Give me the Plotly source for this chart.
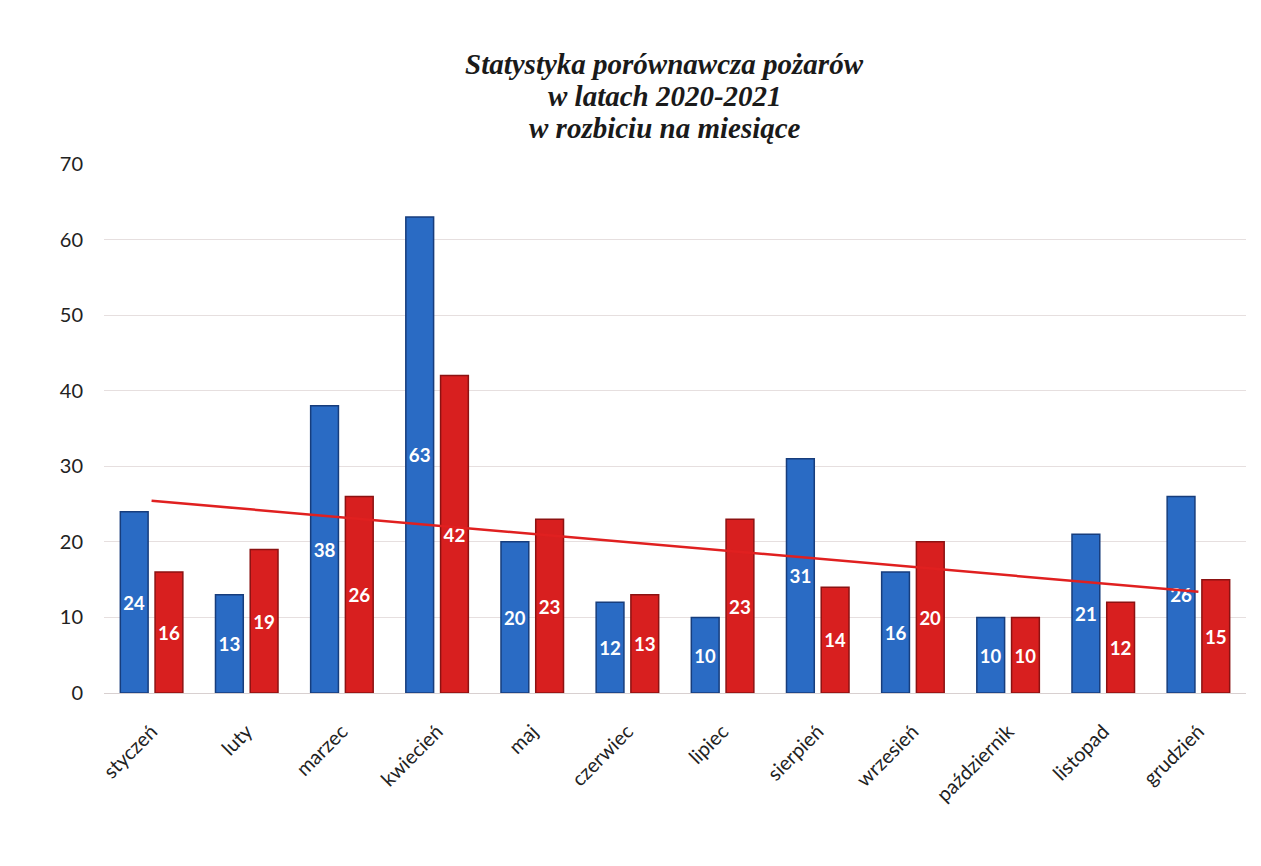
import numpy as np
import plotly.graph_objects as go

months = ["styczeń", "luty", "marzec", "kwiecień", "maj", "czerwiec", "lipiec",
          "sierpień", "wrzesień", "październik", "listopad", "grudzień"]
y2020 = [24, 13, 38, 63, 20, 12, 10, 31, 16, 10, 21, 26]
y2021 = [16, 19, 26, 42, 23, 13, 23, 14, 20, 10, 12, 15]
y_ticks = [0, 10, 20, 30, 40, 50, 60, 70]
title_lines = ["Statystyka porównawcza pożarów", "w latach 2020-2021", "w rozbiciu na miesiące"]

# linear trend of the 2021 series (as in the source spreadsheet)
xi = np.arange(1, len(months) + 1)
slope, intercept = np.polyfit(xi, y2021, 1)
trend = slope * xi + intercept

label_font = dict(color="white", size=20, family="Lato, Open Sans, sans-serif", weight="bold")

fig = go.Figure()
fig.add_trace(go.Bar(
    x=months, y=y2020, name="2020",
    marker=dict(color="#2a6bc4", line=dict(color="#173d7c", width=1.5)),
    text=y2020, textposition="inside", insidetextanchor="middle",
    textfont=label_font, textangle=0,
))
fig.add_trace(go.Bar(
    x=months, y=y2021, name="2021",
    marker=dict(color="#d81f1f", line=dict(color="#8c1212", width=1.5)),
    text=y2021, textposition="inside", insidetextanchor="middle",
    textfont=label_font, textangle=0,
))
fig.add_trace(go.Scatter(
    x=months, y=trend, mode="lines",
    line=dict(color="#e02020", width=2.5), hoverinfo="skip",
))

title_font = dict(family="Liberation Serif, Times New Roman, serif", size=29,
                  color="#1a1a1a", weight="bold", style="italic")
for i, line in enumerate(title_lines):
    fig.add_annotation(
        text=line, xref="paper", yref="paper", x=0.491, y=1 + (100 - 32 * i) / 529.0,
        xanchor="center", yanchor="middle", showarrow=False, font=title_font,
    )

fig.update_layout(
    width=1261, height=866,
    paper_bgcolor="white", plot_bgcolor="white",
    showlegend=False,
    barmode="group", bargap=0.27, bargroupgap=0.2,
    margin=dict(l=96, r=23, t=156, b=181),
    xaxis=dict(
        tickangle=-45, tickfont=dict(family="Lato, Open Sans, sans-serif", size=20, color="#222"),
        showgrid=False, showline=False, ticks="", ticklabelstandoff=22,
    ),
    yaxis=dict(
        range=[0, 70], tickvals=y_ticks,
        tickfont=dict(family="Lato, Open Sans, sans-serif", size=20, color="#222"),
        showgrid=True, gridcolor="#e6dfdf", gridwidth=1, zeroline=True,
        zerolinecolor="#d8d0d0", zerolinewidth=1, ticks="", ticklabelstandoff=20,
    ),
)

fig.write_html("out.html")
